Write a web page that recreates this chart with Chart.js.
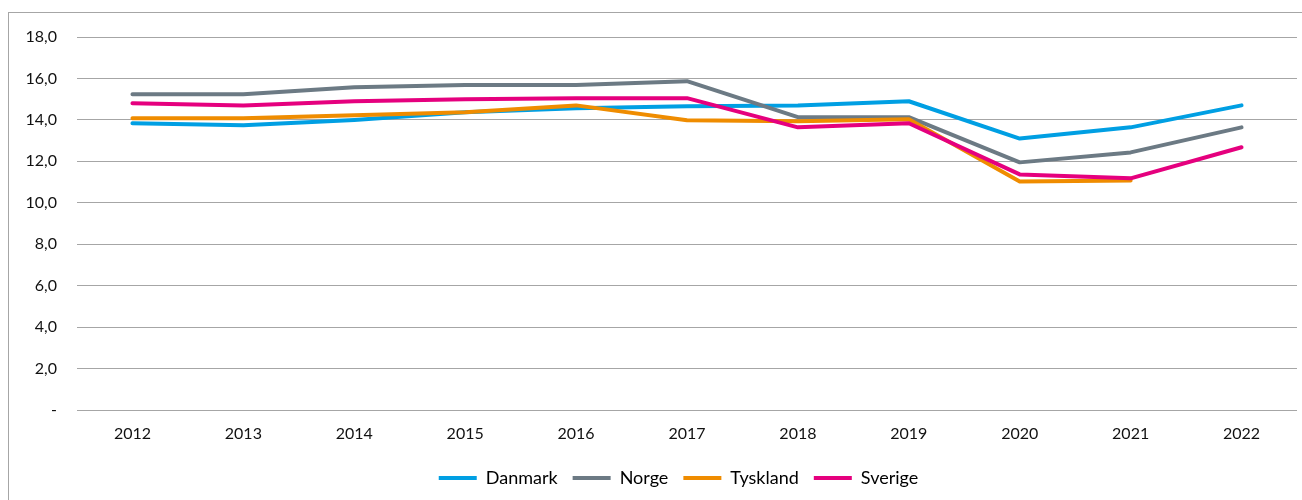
<!DOCTYPE html>
<html>
<head>
<meta charset="utf-8">
<script src="https://cdn.jsdelivr.net/npm/chart.js@4"></script>
<style>
    html, body { margin: 0; padding: 0; background: #fff; }
    #wrap { position: relative; width: 1302px; height: 500px; overflow: hidden; }
    #frame { position: absolute; left: 8px; top: 12px; width: 2000px; height: 1000px;
             border-left: 1px solid #a6a6a6; border-top: 1px solid #a6a6a6; }
    #chart { position: absolute; left: 0; top: 0; }
</style>
</head>
<body>
<div id="wrap">
    <div id="frame"></div>
    <canvas id="chart" width="1302" height="500"></canvas>
</div>
<script>
const years = ['2012', '2013', '2014', '2015', '2016', '2017', '2018', '2019', '2020', '2021', '2022'];

const danmark  = [13.84, 13.74, 14.0, 14.37, 14.56, 14.66, 14.7, 14.9, 13.1, 13.64, 14.7];
const norge    = [15.24, 15.24, 15.58, 15.68, 15.68, 15.87, 14.13, 14.13, 11.95, 12.43, 13.64];
const tyskland = [14.08, 14.08, 14.22, 14.37, 14.7, 13.98, 13.93, 14.03, 11.03, 11.08, null];
const sverige  = [14.8, 14.7, 14.9, 15.0, 15.05, 15.05, 13.64, 13.84, 11.37, 11.18, 12.68];

const colors = {
    danmark: '#009fe3',
    norge: '#6c7a84',
    tyskland: '#ef8c00',
    sverige: '#e5007e'
};

const FONT = 'Lato, "Open Sans", sans-serif';

function line(label, data, color, order) {
    return {
        label: label,
        data: data,
        borderColor: color,
        backgroundColor: color,
        borderWidth: 4,
        pointRadius: 0,
        tension: 0,
        borderCapStyle: 'round',
        borderJoinStyle: 'round',
        order: order
    };
}

// legend in the original sits a bit right of the canvas centre
const legendShift = {
    id: 'legendShift',
    afterLayout(chart) {
        if (!chart.legend) return;
        chart.legend.left += 25;
        chart.legend.right += 25;
    }
};

new Chart(document.getElementById('chart'), {
    type: 'line',
    data: {
        labels: years,
        datasets: [
            line('Danmark', danmark, colors.danmark, 4),
            line('Norge', norge, colors.norge, 3),
            line('Tyskland', tyskland, colors.tyskland, 2),
            line('Sverige', sverige, colors.sverige, 1)
        ]
    },
    plugins: [legendShift],
    options: {
        responsive: false,
        animation: false,
        layout: { padding: { left: 10, top: 37, right: 5, bottom: 3 } },
        plugins: {
            tooltip: { enabled: false },
            legend: {
                position: 'bottom',
                labels: {
                    font: { family: FONT, size: 18 },
                    color: '#111',
                    boxWidth: 38,
                    boxHeight: 4,
                    padding: 15,
                    sort: (a, b) => a.datasetIndex - b.datasetIndex,
                    generateLabels: chart => chart.data.datasets.map((ds, i) => ({
                        text: ds.label,
                        fillStyle: ds.borderColor,
                        strokeStyle: ds.borderColor,
                        lineWidth: 0,
                        hidden: false,
                        datasetIndex: i
                    }))
                }
            }
        },
        scales: {
            x: {
                offset: true,
                grid: { display: false },
                border: { display: false },
                ticks: { font: { family: FONT, size: 16 }, color: '#111', padding: 6, maxRotation: 0 },
                afterFit: s => { s.height = 44; }
            },
            y: {
                min: 0,
                max: 18,
                grid: { color: '#a6a6a6', lineWidth: 1, drawTicks: false },
                border: { display: false },
                ticks: {
                    stepSize: 2,
                    padding: 20,
                    font: { family: FONT, size: 16 },
                    color: '#111',
                    callback: v => v === 0 ? '-' : v.toFixed(1).replace('.', ',')
                },
                afterFit: s => { s.width = 67; }
            }
        }
    }
});
</script>
</body>
</html>
